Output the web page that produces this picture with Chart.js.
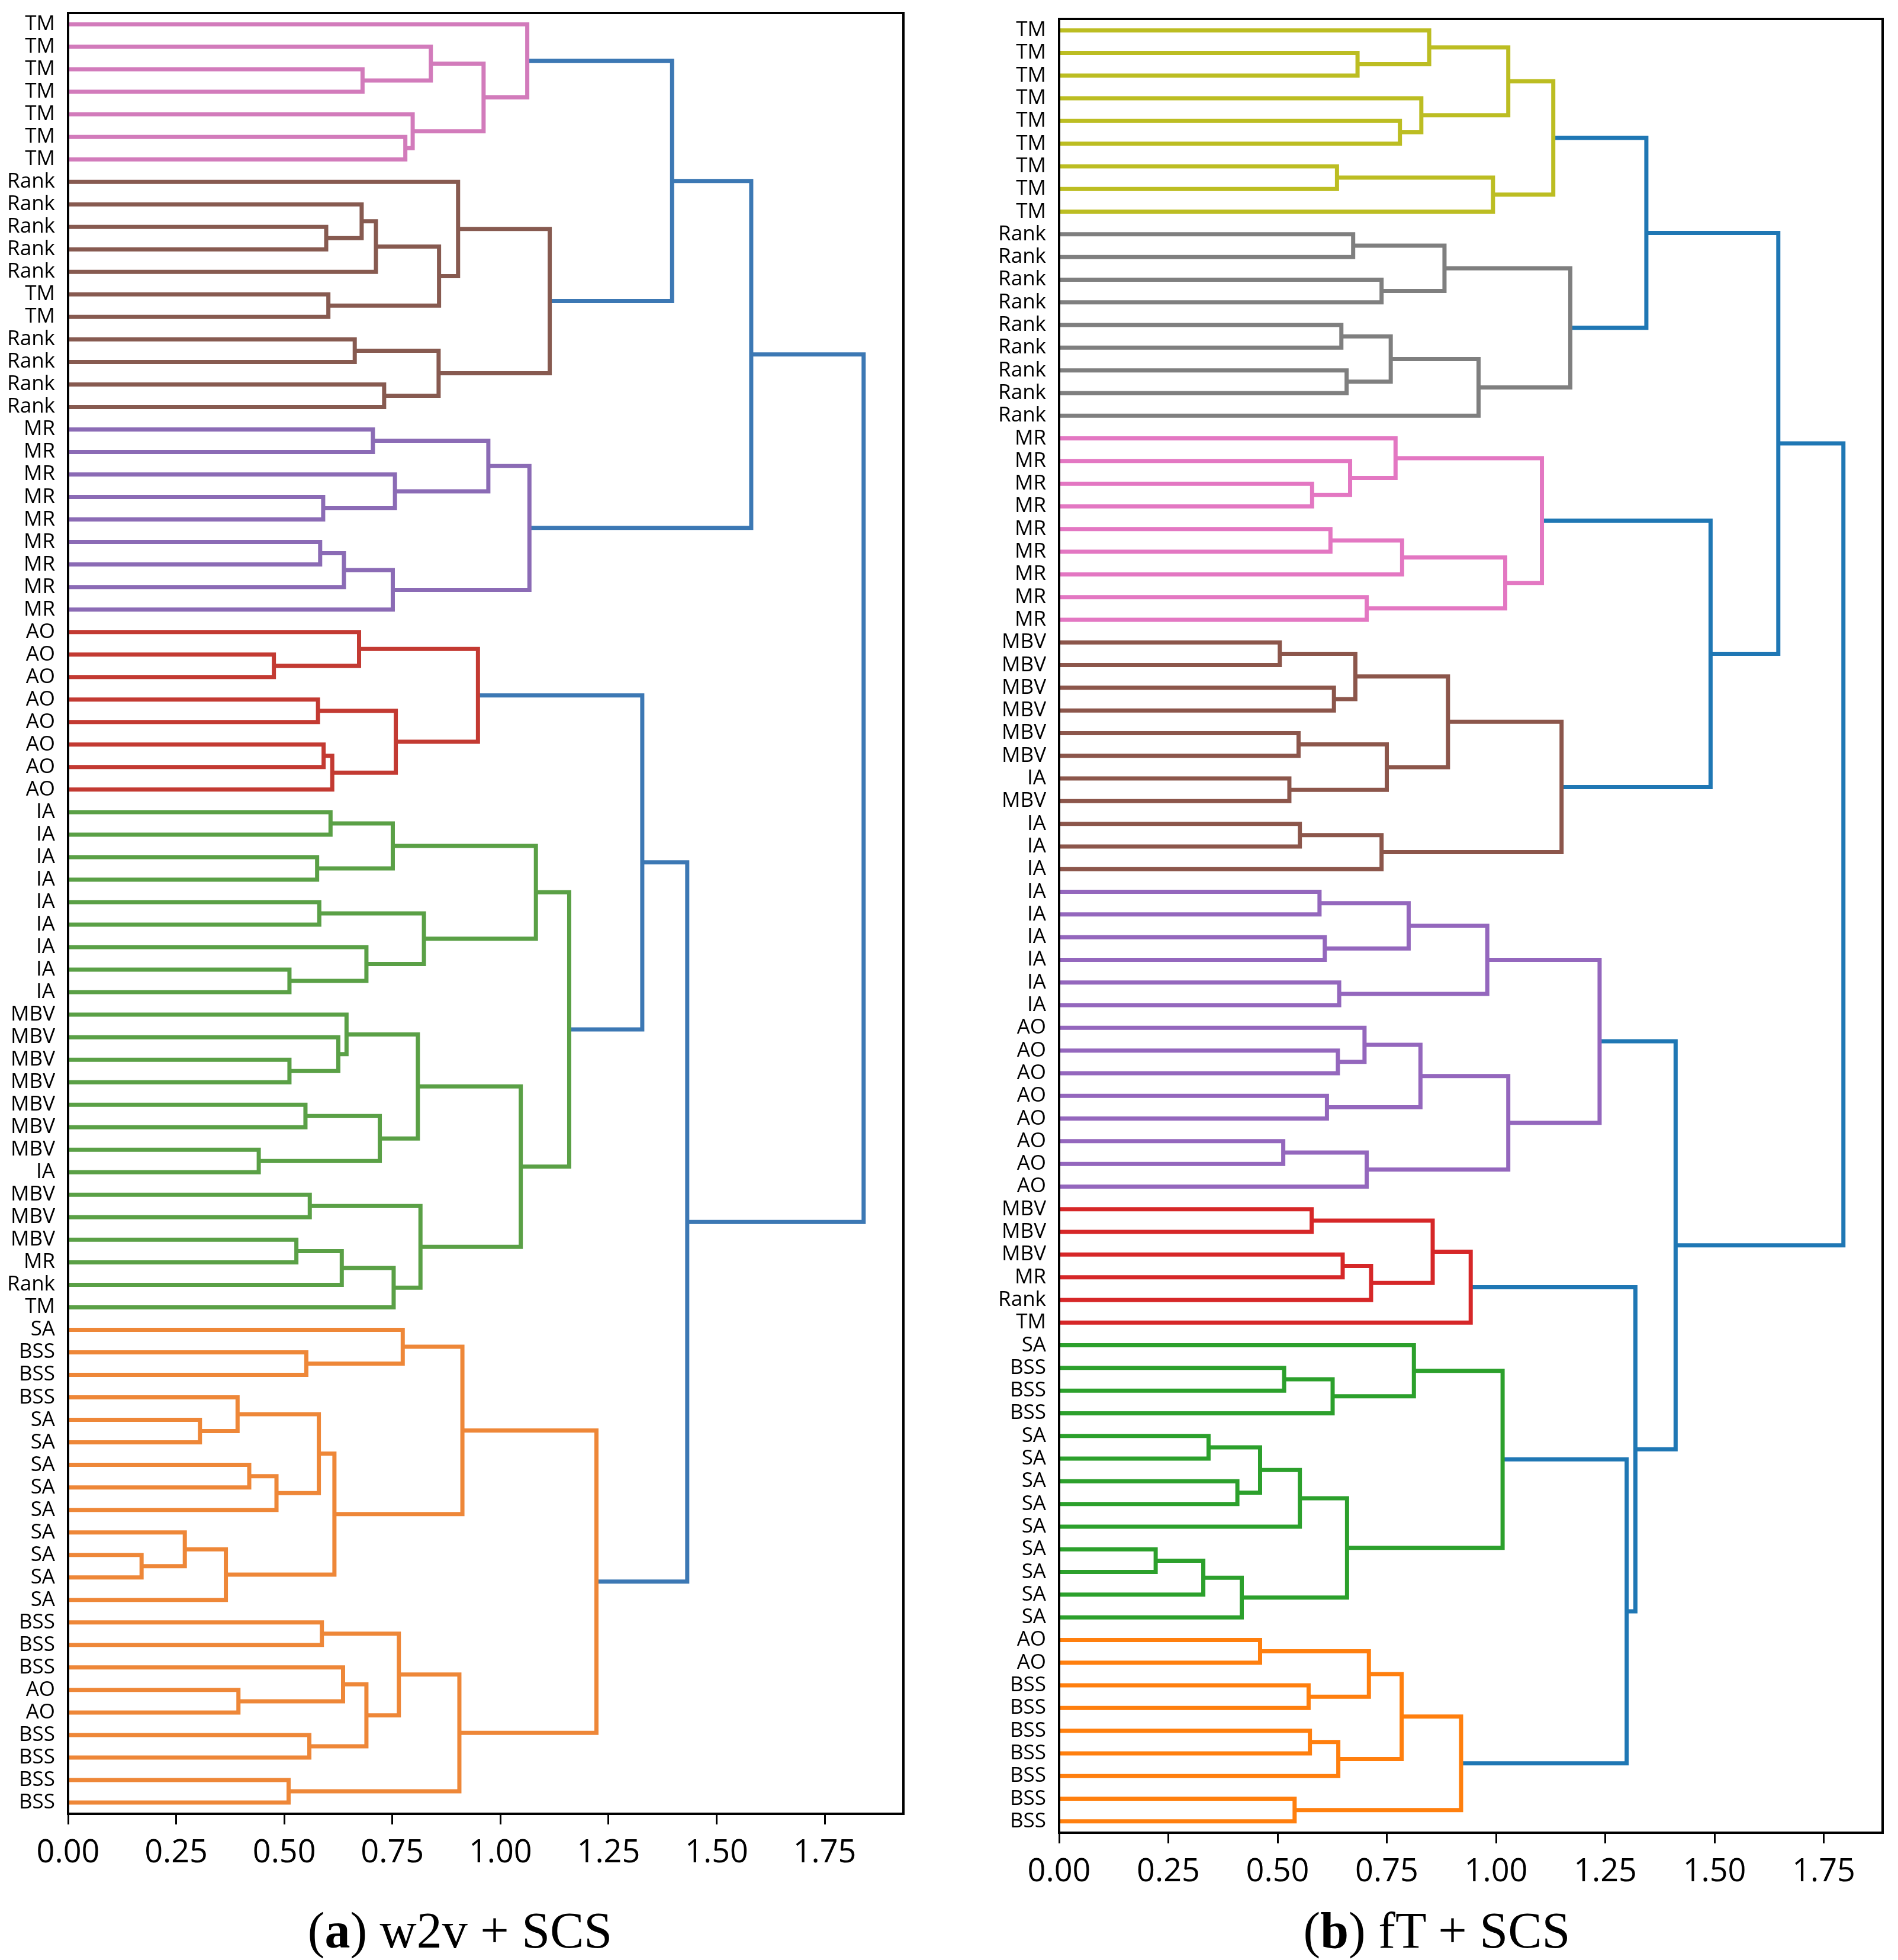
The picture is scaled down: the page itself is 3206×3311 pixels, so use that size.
<!DOCTYPE html>
<html>
<head>
<meta charset="utf-8">
<script src="https://cdn.jsdelivr.net/npm/chart.js@4.4.1/dist/chart.umd.min.js"></script>
<style>
  html, body { margin: 0; padding: 0; background: #fff; }
  body { width: 3206px; height: 3311px; position: relative; overflow: hidden; }
  canvas { position: absolute; top: 0; }
  #leftChart { left: 0; }
  #rightChart { left: 1600px; }
  .caption {
    position: absolute; top: 3218px;
    font-family: "Liberation Serif", serif; font-size: 86px; line-height: 86px;
    white-space: nowrap; transform: translateX(-50%); color: #000;
  }
</style>
</head>
<body>
<canvas id="leftChart" width="1560" height="3200"></canvas>
<canvas id="rightChart" width="1606" height="3200"></canvas>
<div class="caption" style="left:777px">(<b>a</b>) w2v + SCS</div>
<div class="caption" style="left:2427px">(<b>b</b>) fT + SCS</div>
<script>
// x axis ticks shared by both panels
const xTicks = [0, 0.25, 0.5, 0.75, 1.0, 1.25, 1.5, 1.75];

// ---- (a) w2v + SCS ----
const leftLabels = [
  'TM','TM','TM','TM','TM','TM','TM',
  'Rank','Rank','Rank','Rank','Rank','TM','TM','Rank','Rank','Rank','Rank',
  'MR','MR','MR','MR','MR','MR','MR','MR','MR',
  'AO','AO','AO','AO','AO','AO','AO','AO',
  'IA','IA','IA','IA','IA','IA','IA','IA','IA',
  'MBV','MBV','MBV','MBV','MBV','MBV','MBV','IA','MBV','MBV','MBV','MR','Rank','TM',
  'SA','BSS','BSS','BSS','SA','SA','SA','SA','SA','SA','SA','SA','SA',
  'BSS','BSS','BSS','AO','AO','BSS','BSS','BSS','BSS'
];
// merges: [first leaf, last leaf of upper child, last leaf, height] (leaf numbers from top, 1-based)
const leftMerges = [
  [3,3,4,0.681],[2,2,4,0.839],[6,6,7,0.780],[5,5,7,0.797],[2,4,7,0.961],[1,1,7,1.062],
  [10,10,11,0.597],[9,9,11,0.679],[9,11,12,0.712],[13,13,14,0.602],[9,12,14,0.858],[8,8,14,0.902],
  [15,15,16,0.663],[17,17,18,0.731],[15,16,18,0.857],[8,14,18,1.114],
  [1,7,18,1.397],
  [19,19,20,0.705],[22,22,23,0.590],[21,21,23,0.756],[19,20,23,0.972],
  [24,24,25,0.583],[24,25,26,0.638],[24,26,27,0.751],[19,23,27,1.067],
  [1,18,27,1.580],
  [29,29,30,0.476],[28,28,30,0.673],[31,31,32,0.578],[33,33,34,0.591],[33,34,35,0.611],
  [31,32,35,0.758],[28,30,35,0.948],
  [36,36,37,0.607],[38,38,39,0.576],[36,37,39,0.751],[40,40,41,0.581],[43,43,44,0.512],
  [42,42,44,0.690],[40,41,44,0.823],[36,39,44,1.082],
  [47,47,48,0.512],[46,46,48,0.625],[45,45,48,0.644],[49,49,50,0.549],[51,51,52,0.441],
  [49,50,52,0.721],[45,48,52,0.809],
  [53,53,54,0.559],[55,55,56,0.528],[55,56,57,0.633],[55,57,58,0.753],[53,54,58,0.815],
  [45,52,58,1.047],[36,44,58,1.159],
  [28,35,58,1.328],
  [60,60,61,0.551],[59,59,61,0.774],[63,63,64,0.305],[62,62,64,0.392],[65,65,66,0.419],
  [65,66,67,0.482],[62,64,67,0.580],[69,69,70,0.170],[68,68,70,0.270],[68,70,71,0.365],
  [62,67,71,0.616],[59,61,71,0.912],
  [72,72,73,0.587],[75,75,76,0.394],[74,74,76,0.636],[77,77,78,0.558],[74,76,78,0.690],
  [72,73,78,0.765],[79,79,80,0.510],[72,78,80,0.905],[59,71,80,1.222],
  [28,58,80,1.432],
  [1,27,80,1.840]
];
const leftClusters = [
  [1, 7, '#d27bbb'], [8, 18, '#875a50'], [19, 27, '#8b6bb5'],
  [28, 35, '#c33a32'], [36, 58, '#5aa046'], [59, 80, '#ee8738']
];
const leftAbove = '#3c78b4';

// ---- (b) fT + SCS ----
const rightLabels = [
  'TM','TM','TM','TM','TM','TM','TM','TM','TM',
  'Rank','Rank','Rank','Rank','Rank','Rank','Rank','Rank','Rank',
  'MR','MR','MR','MR','MR','MR','MR','MR','MR',
  'MBV','MBV','MBV','MBV','MBV','MBV','IA','MBV','IA','IA','IA',
  'IA','IA','IA','IA','IA','IA',
  'AO','AO','AO','AO','AO','AO','AO','AO',
  'MBV','MBV','MBV','MR','Rank','TM',
  'SA','BSS','BSS','BSS','SA','SA','SA','SA','SA','SA','SA','SA','SA',
  'AO','AO','BSS','BSS','BSS','BSS','BSS','BSS','BSS'
];
const rightMerges = [
  [2,2,3,0.683],[1,1,3,0.847],[5,5,6,0.780],[4,4,6,0.829],[1,3,6,1.028],
  [7,7,8,0.636],[7,8,9,0.993],[1,6,9,1.131],
  [10,10,11,0.673],[12,12,13,0.738],[10,11,13,0.882],[14,14,15,0.646],[16,16,17,0.658],
  [14,15,17,0.759],[14,17,18,0.960],[10,13,18,1.170],
  [1,9,18,1.344],
  [21,21,22,0.579],[20,20,22,0.666],[19,19,22,0.770],[23,23,24,0.621],[23,24,25,0.785],
  [26,26,27,0.704],[23,25,27,1.021],[19,22,27,1.105],
  [28,28,29,0.505],[30,30,31,0.629],[28,29,31,0.678],[32,32,33,0.548],[34,34,35,0.527],
  [32,33,35,0.750],[28,31,35,0.890],[36,36,37,0.551],[36,37,38,0.738],[28,35,38,1.150],
  [19,27,38,1.491],
  [1,18,38,1.646],
  [39,39,40,0.596],[41,41,42,0.608],[39,40,42,0.800],[43,43,44,0.641],[39,42,44,0.980],
  [46,46,47,0.638],[45,45,47,0.699],[48,48,49,0.613],[45,47,49,0.827],
  [50,50,51,0.513],[50,51,52,0.704],[45,49,52,1.028],[39,44,52,1.237],
  [53,53,54,0.578],[55,55,56,0.649],[55,56,57,0.714],[53,54,57,0.855],[53,57,58,0.942],
  [60,60,61,0.515],[60,61,62,0.626],[59,59,62,0.812],
  [63,63,64,0.342],[65,65,66,0.408],[63,64,66,0.460],[63,66,67,0.551],
  [68,68,69,0.221],[68,69,70,0.330],[68,70,71,0.418],[63,67,71,0.659],[59,62,71,1.015],
  [72,72,73,0.460],[74,74,75,0.571],[72,73,75,0.709],[76,76,77,0.574],[76,77,78,0.639],
  [72,75,78,0.784],[79,79,80,0.539],[72,78,80,0.920],
  [59,71,80,1.299],
  [53,58,80,1.319],
  [39,52,80,1.411],
  [1,38,80,1.795]
];
const rightClusters = [
  [1, 9, '#bcbd22'], [10, 18, '#7f7f7f'], [19, 27, '#e377c2'], [28, 38, '#8c564b'],
  [39, 52, '#9467bd'], [53, 58, '#d62728'], [59, 71, '#2ca02c'], [72, 80, '#ff7f0e']
];
const rightAbove = '#1f77b4';

// turn merge list into U-shaped links (scipy style: leaves at 5, 15, 25, ...)
function buildLinks(merges, clusters, aboveColor) {
  const byRange = {};
  merges.forEach(m => { byRange[m[0] + '-' + m[2]] = m; });
  const pos = (a, b) => {
    if (a === b) return 5 + 10 * (a - 1);
    const m = byRange[a + '-' + b];
    return (pos(a, m[1]) + pos(m[1] + 1, b)) / 2;
  };
  const height = (a, b) => (a === b ? 0 : byRange[a + '-' + b][3]);
  return merges.map(([a, mid, b, h]) => {
    const yTop = pos(a, mid);
    const yBot = pos(mid + 1, b);
    const cl = clusters.find(c => a >= c[0] && b <= c[1]);
    return {
      data: [
        { x: height(a, mid), y: yTop },
        { x: h, y: yTop },
        { x: h, y: yBot },
        { x: height(mid + 1, b), y: yBot }
      ],
      showLine: true,
      borderColor: cl ? cl[2] : aboveColor,
      borderWidth: 7,
      borderCapStyle: 'butt',
      borderJoinStyle: 'miter',
      pointRadius: 0,
      fill: false,
      tension: 0
    };
  });
}

// box around the plot area
const framePlugin = {
  id: 'frame',
  afterDraw(chart) {
    const { ctx, chartArea: a } = chart;
    ctx.save();
    ctx.strokeStyle = '#000';
    ctx.lineWidth = 4;
    ctx.strokeRect(a.left, a.top, a.right - a.left, a.bottom - a.top);
    ctx.restore();
  }
};

function makeDendro(id, labels, merges, clusters, aboveColor, yWidth, pad) {
  const root = Math.max(...merges.map(m => m[3]));
  return new Chart(document.getElementById(id), {
    type: 'scatter',
    data: { datasets: buildLinks(merges, clusters, aboveColor) },
    options: {
      responsive: false,
      animation: false,
      devicePixelRatio: 1,
      layout: { padding: pad },
      plugins: { legend: { display: false }, tooltip: { enabled: false } },
      scales: {
        x: {
          type: 'linear',
          min: 0,
          max: root * 1.05,
          afterBuildTicks: s => { s.ticks = xTicks.map(v => ({ value: v })); },
          afterFit: s => { s.height = 100; s.paddingLeft = 0; s.paddingRight = 0; },
          grid: { display: true, drawOnChartArea: false, drawTicks: true, tickLength: 18, tickWidth: 3, tickColor: '#000' },
          border: { display: false },
          ticks: {
            color: '#000', padding: 16, maxRotation: 0, autoSkip: false,
            font: { family: 'Open Sans', size: 54 },
            callback: v => Number(v).toFixed(2)
          }
        },
        y: {
          type: 'linear',
          min: 0,
          max: labels.length * 10,
          reverse: true,
          afterBuildTicks: s => { s.ticks = labels.map((_, i) => ({ value: 5 + 10 * i })); },
          afterFit: s => { s.width = yWidth; s.paddingTop = 0; s.paddingBottom = 0; },
          grid: { display: false },
          border: { display: false },
          ticks: {
            color: '#000', padding: 14, autoSkip: false,
            font: { family: 'Open Sans', size: 35 },
            callback: v => labels[Math.round((v - 5) / 10)]
          }
        }
      }
    },
    plugins: [framePlugin]
  });
}

makeDendro('leftChart', leftLabels, leftMerges, leftClusters, leftAbove, 115,
  { top: 22, right: 34, bottom: 36, left: 0 });
makeDendro('rightChart', rightLabels, rightMerges, rightClusters, rightAbove, 189,
  { top: 32, right: 26, bottom: 4, left: 0 });
</script>
</body>
</html>
